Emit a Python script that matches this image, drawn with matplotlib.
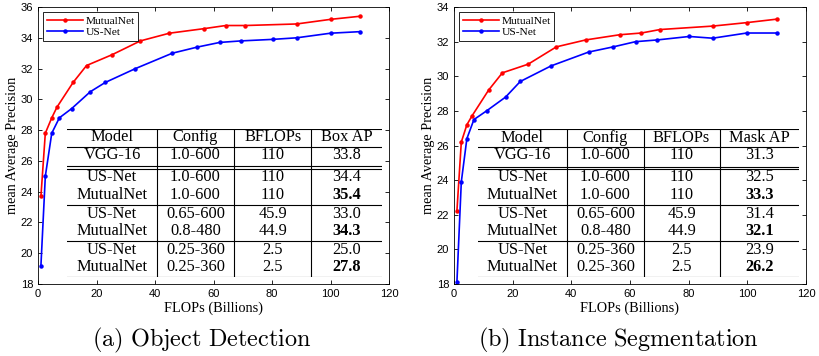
import matplotlib.pyplot as plt
from matplotlib.lines import Line2D

plt.rcParams.update({
    "font.family": "Liberation Sans",
    "font.size": 8,
    "mathtext.fontset": "cm",
})

# (a) object detection
det_mutual_x = [1.0, 2.5, 4.7, 6.5, 12.0, 16.6, 25.3, 35.0, 44.9, 56.9, 64.2, 70.9, 88.4, 100.0, 110.0]
det_mutual_y = [23.7, 27.8, 28.8, 29.5, 31.1, 32.2, 32.9, 33.8, 34.3, 34.6, 34.8, 34.8, 34.9, 35.2, 35.4]
det_us_x = [1.0, 2.5, 4.7, 7.3, 11.5, 17.9, 23.0, 33.3, 45.9, 54.5, 62.1, 69.4, 80.3, 88.4, 100.0, 110.0]
det_us_y = [19.2, 25.0, 27.8, 28.8, 29.4, 30.5, 31.1, 32.0, 33.0, 33.4, 33.7, 33.8, 33.9, 34.0, 34.3, 34.4]

# (b) instance segmentation
seg_mutual_x = [1.0, 2.5, 4.4, 6.1, 11.8, 16.5, 25.3, 34.9, 44.9, 56.5, 63.9, 70.2, 88.2, 99.8, 110.0]
seg_mutual_y = [22.2, 26.2, 27.2, 27.7, 29.2, 30.2, 30.7, 31.7, 32.1, 32.4, 32.5, 32.7, 32.9, 33.1, 33.3]
seg_us_x = [1.0, 2.5, 4.4, 6.8, 11.1, 17.6, 22.6, 33.1, 45.9, 54.3, 61.9, 69.3, 80.2, 88.2, 99.8, 110.0]
seg_us_y = [18.1, 23.9, 26.4, 27.5, 28.0, 28.8, 29.7, 30.6, 31.4, 31.7, 32.0, 32.1, 32.3, 32.2, 32.5, 32.5]

# tables
tbl_models = ["VGG-16", "US-Net", "MutualNet", "US-Net", "MutualNet", "US-Net", "MutualNet"]
tbl_configs = ["1.0-600", "1.0-600", "1.0-600", "0.65-600", "0.8-480", "0.25-360", "0.25-360"]
tbl_bflops = ["110", "110", "110", "45.9", "44.9", "2.5", "2.5"]
box_ap = ["33.8", "34.4", "35.4", "33.0", "34.3", "25.0", "27.8"]
mask_ap = ["31.3", "32.5", "33.3", "31.4", "32.1", "23.9", "26.2"]
bold_rows = [2, 4, 6]

fig = plt.figure(figsize=(8.19, 3.56), dpi=100)


def panel(rect, mx, my, ux, uy, ylim, caption, cx):
    ax = fig.add_axes(rect)
    ax.plot(mx, my, color="#ff0000", lw=1.2, marker="o", ms=2.2, label="MutualNet")
    ax.plot(ux, uy, color="#0000ff", lw=1.2, marker="o", ms=2.2, label="US-Net")
    ax.set_xlim(0, 120)
    ax.set_ylim(*ylim)
    ax.set_xticks(range(0, 121, 20))
    ax.set_yticks(range(ylim[0], ylim[1] + 1, 2))
    ax.tick_params(direction="in", top=True, right=True, length=3, width=0.6, pad=3.5)
    for s in ax.spines.values():
        s.set_linewidth(0.6)
    ax.set_xlabel("FLOPs (Billions)", family="Liberation Serif", fontsize=10.3, labelpad=2)
    ax.set_ylabel("mean Average Precision", family="Liberation Serif", fontsize=10.3, labelpad=1)
    leg = ax.legend(loc="upper left", prop={"family": "Liberation Serif", "size": 8.2},
                    fancybox=False, edgecolor="black", framealpha=1, handlelength=3.2,
                    borderaxespad=0.45, handletextpad=0.2, labelspacing=0.15, borderpad=0.3)
    leg.get_frame().set_linewidth(0.6)
    fig.text(cx, 0.043, r"$\mathrm{" + caption.replace(" ", r"\ ") + "}$",
             ha="center", va="center", fontsize=17.5)
    return ax


def table(rect, dividers, centers, last_header, ap):
    t = fig.add_axes(rect)
    t.set_xlim(0, 1)
    t.set_ylim(0, 1)
    t.axis("off")
    t.add_patch(plt.Rectangle((0, 0), 1, 1, facecolor="white", edgecolor="none"))
    for y in [1.0, 0.879, 0.747, 0.731, 0.487, 0.242, 0.0]:
        t.add_line(Line2D([0, 1], [y, y], color="black", lw=0.8))
    for x in dividers:
        t.add_line(Line2D([x, x], [0, 1], color="black", lw=0.8))
    fp = dict(family="Liberation Serif", fontsize=11.8, ha="center", va="center")
    for c, h in zip(centers, ["Model", "Config", "BFLOPs", last_header]):
        t.text(c, 0.944, h, **fp)
    row_y = [0.823, 0.673, 0.556, 0.428, 0.312, 0.184, 0.067]
    for i, y in enumerate(row_y):
        cols = [tbl_models[i], tbl_configs[i], tbl_bflops[i], ap[i]]
        for j, (c, v) in enumerate(zip(centers, cols)):
            w = "bold" if (j == 3 and i in bold_rows) else "normal"
            t.text(c, y, v, fontweight=w, **fp)


panel([0.0464, 0.2022, 0.4286, 0.778], det_mutual_x, det_mutual_y, det_us_x, det_us_y,
      (18, 36), "(a) Object Detection", 0.246)
table([0.0818, 0.2219, 0.3846, 0.4166], [0.285, 0.531, 0.774],
      [0.143, 0.408, 0.653, 0.887], "Box AP", box_ap)

panel([0.5543, 0.2022, 0.4298, 0.778], seg_mutual_x, seg_mutual_y, seg_us_x, seg_us_y,
      (18, 34), "(b) Instance Segmentation", 0.755)
table([0.5836, 0.2228, 0.392, 0.414], [0.278, 0.518, 0.753],
      [0.138, 0.397, 0.634, 0.876], "Mask AP", mask_ap)

fig.savefig("out.png", dpi=100)
